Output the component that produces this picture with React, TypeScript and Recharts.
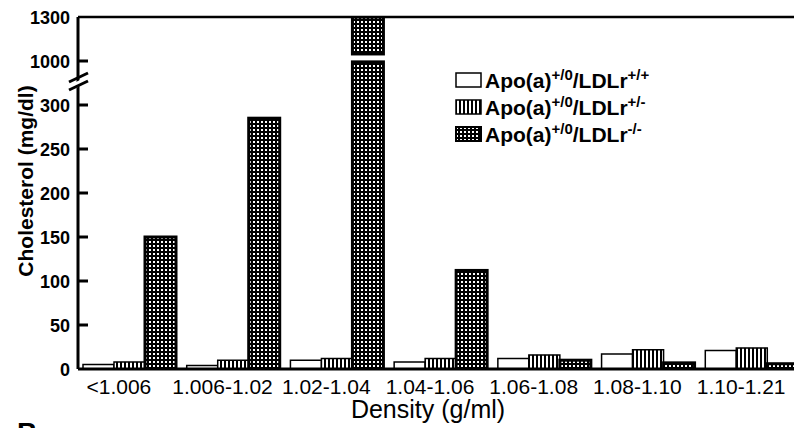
import { BarChart, Bar, XAxis, YAxis, ReferenceLine, Legend } from 'recharts';

const categories = ['<1.006', '1.006-1.02', '1.02-1.04', '1.04-1.06', '1.06-1.08', '1.08-1.10', '1.10-1.21'];
const wildType = [5, 4, 10, 8, 12, 17, 21];
const heterozygous = [8, 10, 12, 12, 16, 22, 24];
const knockout = [150, 285, 1300, 112, 10, 7, 6];
const yTickLabels = [0, 50, 100, 150, 200, 250, 300, 1000, 1300];
const genotypes = ['+/+', '+/-', '-/-'];

const FONT = '"Liberation Sans", Arial, Helvetica, sans-serif';

// broken axis: 0-300 linear, 300-1000 and 1000-1300 each squeezed into 50 units
const toDisplay = (v: number) =>
  v <= 300 ? v : v <= 1000 ? 300 + ((v - 300) * 50) / 700 : 350 + ((v - 1000) * 50) / 300;
const BREAK_AT = 325;

const data = categories.map((category, i) => ({
  category,
  wildType: toDisplay(wildType[i]),
  heterozygous: toDisplay(heterozygous[i]),
  knockout: toDisplay(knockout[i]),
}));

const yTicks = [...yTickLabels.map(toDisplay), BREAK_AT].sort((a, b) => a - b);
const labelFor = (d: number) => {
  const i = yTickLabels.findIndex((t) => Math.abs(toDisplay(t) - d) < 0.01);
  return i < 0 ? '' : String(yTickLabels[i]);
};

const YTick = (props: any) => {
  const { x, y, payload } = props;
  const ax = x + 8;
  if (payload.value === BREAK_AT) {
    return (
      <g>
        <polygon points={`${ax - 6},${y + 1} ${ax + 6},${y - 5} ${ax + 6},${y + 1} ${ax - 6},${y + 7}`} fill="#fff" />
        <line x1={ax - 9} y1={y - 1} x2={ax + 10} y2={y - 10} stroke="#000" strokeWidth={3} />
        <line x1={ax - 9} y1={y + 7} x2={ax + 10} y2={y - 2} stroke="#000" strokeWidth={3} />
      </g>
    );
  }
  return (
    <g>
      {payload.value > 0 && payload.value < 400 && (
        <line x1={ax} y1={y} x2={ax + 10} y2={y} stroke="#000" strokeWidth={3} />
      )}
      <text x={x} y={y} dy={6.5} textAnchor="end" fontFamily={FONT} fontWeight="bold" fontSize={18} fill="#000">
        {labelFor(payload.value)}
      </text>
    </g>
  );
};

const KnockoutBar = (props: any) => {
  const { x, y, width, height, payload } = props;
  const d = payload.knockout;
  if (!height || height <= 0) return null;
  if (d <= 350) {
    return <rect x={x} y={y} width={width} height={height} fill="url(#dots)" stroke="#000" strokeWidth={3} />;
  }
  const ppu = height / d;
  const bottom = y + height;
  const gapTop = bottom - 358 * ppu;
  const gapBottom = bottom - 349 * ppu;
  return (
    <g>
      <rect x={x} y={y} width={width} height={gapTop - y} fill="url(#dots)" stroke="#000" strokeWidth={3} />
      <rect x={x} y={gapBottom} width={width} height={bottom - gapBottom} fill="url(#dots)" stroke="#000" strokeWidth={3} />
    </g>
  );
};

const Swatch = ({ kind }: { kind: number }) => (
  <svg width={27} height={16} style={{ display: 'block' }}>
    <defs>
      <pattern id="lg-stripes" width={4} height={4} patternUnits="userSpaceOnUse">
        <rect width={4} height={4} fill="#fff" />
        <rect width={2} height={4} fill="#000" />
      </pattern>
      <pattern id="lg-dots" width={4} height={4} patternUnits="userSpaceOnUse">
        <rect width={4} height={4} fill="#000" />
        <rect x={1} y={1} width={2} height={2} fill="#fff" />
      </pattern>
    </defs>
    <rect
      x={1}
      y={1}
      width={25}
      height={14}
      fill={kind === 0 ? '#fff' : kind === 1 ? 'url(#lg-stripes)' : 'url(#lg-dots)'}
      stroke="#000"
      strokeWidth={kind === 2 ? 2 : 1.5}
    />
  </svg>
);

const LegendContent = () => (
  <div style={{ fontFamily: FONT, fontWeight: 'bold', fontSize: 21, color: '#000' }}>
    {genotypes.map((g, i) => (
      <div key={g} style={{ display: 'flex', alignItems: 'center', height: 27, whiteSpace: 'nowrap' }}>
        <Swatch kind={i} />
        <span style={{ marginLeft: 3 }}>
          Apo(a)<sup style={{ fontSize: 15 }}>+/0</sup>/LDLr<sup style={{ fontSize: 15 }}>{g}</sup>
        </span>
      </div>
    ))}
  </div>
);

export default function App() {
  return (
    <div style={{ position: 'absolute', left: 0, top: 0, width: 794, height: 428, overflow: 'hidden', background: '#fff' }}>
      <BarChart
        width={820}
        height={428}
        data={data}
        margin={{ top: 17, right: 16, bottom: 0, left: 0 }}
        barCategoryGap={5}
        barGap={0}
      >
        <defs>
          <pattern id="stripes" width={4} height={4} patternUnits="userSpaceOnUse">
            <rect width={4} height={4} fill="#fff" />
            <rect width={2} height={4} fill="#000" />
          </pattern>
          <pattern id="dots" width={4} height={4} patternUnits="userSpaceOnUse">
            <rect width={4} height={4} fill="#000" />
            <rect x={1} y={1} width={2} height={2} fill="#fff" />
          </pattern>
        </defs>
        <XAxis
          dataKey="category"
          height={59}
          axisLine={{ stroke: '#000', strokeWidth: 3 }}
          tickLine={false}
          tickSize={0}
          tickMargin={10}
          interval={0}
          tick={{ fontSize: 21, fill: '#000', fontFamily: FONT, dx: -11 }}
        />
        <YAxis
          type="number"
          domain={[0, 400]}
          ticks={yTicks}
          interval={0}
          width={78}
          allowDataOverflow
          axisLine={{ stroke: '#000', strokeWidth: 3 }}
          tickLine={false}
          tickSize={0}
          tickMargin={8}
          tick={<YTick />}
        />
        <ReferenceLine y={400} stroke="#000" strokeWidth={2.5} />
        <Legend
          layout="vertical"
          align="center"
          verticalAlign="middle"
          content={<LegendContent />}
          wrapperStyle={{ left: 455, top: 66, width: 'auto' }}
        />
        <Bar dataKey="wildType" fill="#fff" stroke="#000" strokeWidth={1.5} isAnimationActive={false} />
        <Bar dataKey="heterozygous" fill="url(#stripes)" stroke="#000" strokeWidth={1.5} isAnimationActive={false} />
        <Bar dataKey="knockout" shape={<KnockoutBar />} isAnimationActive={false} />
        <text
          x={33}
          y={181}
          transform="rotate(-90, 33, 181)"
          textAnchor="middle"
          fontFamily={FONT}
          fontWeight="bold"
          fontSize={21}
          fill="#000"
        >
          Cholesterol (mg/dl)
        </text>
        <text x={428} y={418} textAnchor="middle" fontFamily={FONT} fontSize={25} fill="#000">
          Density (g/ml)
        </text>
      </BarChart>
      <div
        style={{
          position: 'absolute',
          left: 17,
          top: 419,
          fontFamily: FONT,
          fontWeight: 'bold',
          fontSize: 28,
          lineHeight: '28px',
        }}
      >
        B
      </div>
    </div>
  );
}
